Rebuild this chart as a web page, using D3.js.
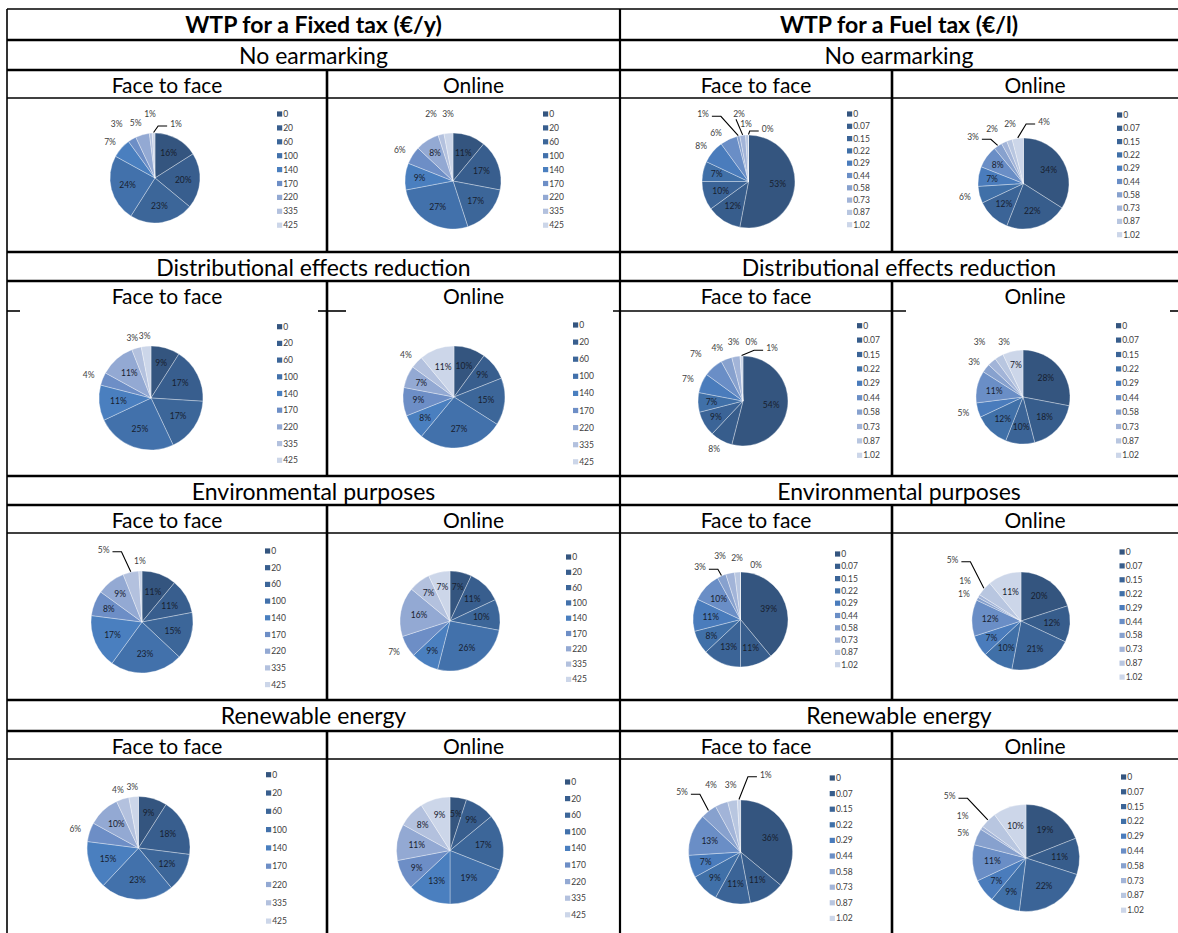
<!DOCTYPE html>
<html><head><meta charset="utf-8">
<script src="https://cdn.jsdelivr.net/npm/d3@7"></script>
<style>
body{margin:0;background:#fff}
svg{display:block;font-family:Lato,'Open Sans',sans-serif}
</style></head><body>
<svg id="chart" width="1178" height="933"></svg>
<script>
// Answer categories (WTP levels)
const fixedLevels = ["0","20","60","100","140","170","220","335","425"];
const fuelLevels  = ["0","0.07","0.15","0.22","0.29","0.44","0.58","0.73","0.87","1.02"];

const taxTitles = ["WTP for a Fixed tax (€/y)", "WTP for a Fuel tax (€/l)"];
const purposes  = ["No earmarking", "Distributional effects reduction", "Environmental purposes", "Renewable energy"];
const modes     = ["Face to face", "Online"];

// Share of respondents per level (%), one row per earmarking option
const fixedF2F = [
  [16,20,23,24,7,3,5,1,1],
  [9,17,17,25,11,4,11,3,3],
  [11,11,15,23,17,8,9,5,1],
  [9,18,12,23,15,6,10,4,3]
];
const fixedOnline = [
  [11,17,17,27,9,6,8,2,3],
  [10,9,15,27,8,9,7,4,11],
  [7,11,10,26,9,7,16,7,7],
  [5,9,17,19,13,9,11,8,9]
];
const fuelF2F = [
  [53,12,10,7,8,6,1,2,1,0],
  [54,8,9,7,7,7,4,3,0,1],
  [39,11,13,8,11,10,3,3,2,0],
  [36,11,11,9,7,13,5,4,3,1]
];
const fuelOnline = [
  [34,22,12,6,7,8,3,2,2,4],
  [28,18,10,12,5,11,3,3,3,7],
  [20,12,21,10,7,12,1,1,5,11],
  [19,11,22,9,7,11,5,1,5,10]
];

// Slice palettes
const fixedColors = ["#34557f","#385e8e","#3c6699","#4271ab","#4a7fbf","#6d8ec6","#93a9d3","#b3c1de","#ccd6e9"];
const fuelColors  = ["#34557f","#375d8c","#3b6497","#4070a8","#4a7cbc","#6a8ec6","#87a1ce","#a2b4d8","#b8c6e0","#ccd6e9"];

// Panel geometry: [pie cx, pie cy, radius, legend x, legend first y, legend step]
const pieLayout = [
  [[155,178,45,277,114,13.9],[453,181,48,543,114,13.9],[748.5,181.5,46.5,847,114,12.3],[1023.5,183.5,45.5,1117,115,13.3]],
  [[151,398,52,277,326.7,16.7],[454,397,51,573,325,17.1],[743,401,45,857,325.7,14.4],[1023,397,47,1116,325.7,14.4]],
  [[142,622,51,265,551,16.7],[450,621,50,566,557,15.3],[740.5,619.5,47.5,835,554,12.3],[1021,621,49,1119.5,552,13.9]],
  [[138.5,848,51.5,266,774.7,18.3],[450,850.5,53.5,565,782,16.6],[740.6,852,52,829.7,778,15.6],[1026,858,53.5,1121,777,14.8]]
];

// Which slice labels sit outside the pie
const outsideLabels = [
  [[4,5,6,7,8],[5,7,8],[4,5,6,7,8,9],[3,6,7,8,9]],
  [[5,7,8],[7],[1,4,5,6,7,8,9],[4,6,7,8]],
  [[7,8],[5],[6,7,8,9],[6,7,8]],
  [[5,7,8],[],[6,7,8,9],[6,7,8]]
];

// Hand-placed outside labels (offset from pie centre); third item = draw leader line
const labelNudges = {
  "0-0": {5:[-38.4,-54], 6:[-19.4,-55.3], 7:[-5,-64], 8:[21,-54,1]},
  "0-1": {7:[-22,-66.7], 8:[-5,-66.7]},
  "0-2": {5:[-32.5,-48.2], 6:[-45.5,-67.2,1], 7:[-9.5,-67.2,1], 8:[-2.5,-57.5], 9:[19.1,-52.5,1]},
  "0-3": {6:[-50.5,-46.2,1], 7:[-31.5,-54.2], 8:[-13.5,-59.5], 9:[20.5,-61.5,1]},
  "1-2": {5:[-47.2,-46.7], 6:[-25.7,-52.7], 7:[-9.5,-59.3], 8:[8.4,-59.3], 9:[29,-52.7,1]},
  "1-3": {7:[-43.5,-54.7], 8:[-19,-54.7]},
  "2-0": {7:[-38.4,-72.3,1]},
  "2-2": {6:[-40.5,-52.2,1], 7:[-20.5,-63.2], 8:[-3.5,-61.5], 9:[15.5,-54.2]},
  "2-3": {7:[-56,-40.3], 8:[-68.5,-61.3,1]},
  "3-2": {6:[-58.6,-59.7,1], 7:[-29.6,-67.3], 8:[-10,-67.3], 9:[25.2,-77.3,1]},
  "3-3": {7:[-63.4,-42.3], 8:[-76.4,-61.7,1]}
};

// Table grid
const colX = [7, 327, 620, 892, 1178];
const bandTop = [[40,70,98,252],[252,281,311,476],[476,505,533,700],[700,731,759,933]];

const svg = d3.select("#chart");
svg.append("rect").attr("width",1178).attr("height",933).attr("fill","#fff");

const grid = svg.append("g").attr("stroke","#000").attr("fill","none");
const hLines = [
  [9,1.5],[40,2.6],[70,2.6],[98,1.6],[252,2.6],[281,2.6],[476,2.6],[505,2.6],[533,1.6],[700,2.6],[731,2.6],[759,1.6]
];
hLines.forEach(([y,w]) => grid.append("line").attr("x1",colX[0]).attr("x2",colX[4]).attr("y1",y).attr("y2",y).attr("stroke-width",w));
// line under the second-row mode headers is mostly hidden behind the charts
[[7,20],[318,346],[613,906],[1170,1178]].forEach(([a,b]) =>
  grid.append("line").attr("x1",a).attr("x2",b).attr("y1",311).attr("y2",311).attr("stroke-width",1.6));
grid.append("line").attr("x1",colX[0]).attr("x2",colX[0]).attr("y1",9).attr("y2",933).attr("stroke-width",1.6);
grid.append("line").attr("x1",colX[2]).attr("x2",colX[2]).attr("y1",9).attr("y2",933).attr("stroke-width",2.2);
bandTop.forEach(b => {
  [colX[1], colX[3]].forEach(x =>
    grid.append("line").attr("x1",x).attr("x2",x).attr("y1",b[1]).attr("y2",b[3]).attr("stroke-width",2.6));
});

// Header texts
const txt = svg.append("g").attr("fill","#000").attr("text-anchor","middle");
taxTitles.forEach((t,i) => {
  txt.append("text").attr("x",(colX[2*i]+colX[2*i+2])/2).attr("y",33)
    .attr("font-size",23).attr("font-weight","bold").text(t);
});
purposes.forEach((p,r) => {
  [0,1].forEach(side => {
    txt.append("text").attr("x",(colX[2*side]+colX[2*side+2])/2).attr("y",bandTop[r][0]+23.5)
      .attr("font-size",23).text(p);
    modes.forEach((m,k) => {
      txt.append("text").attr("x",(colX[2*side+k]+colX[2*side+k+1])/2).attr("y",bandTop[r][1]+22.5)
        .attr("font-size",21).text(m);
    });
  });
});

// Pie panels
const series = [
  {vals: fixedF2F, levels: fixedLevels, colors: fixedColors},
  {vals: fixedOnline, levels: fixedLevels, colors: fixedColors},
  {vals: fuelF2F, levels: fuelLevels, colors: fuelColors},
  {vals: fuelOnline, levels: fuelLevels, colors: fuelColors}
];
const pie = d3.pie().sort(null).value(d => d.v);

purposes.forEach((p, r) => {
  series.forEach((s, c) => {
    const [cx, cy, rad, lx, ly, step] = pieLayout[r][c];
    const data = s.vals[r].map((v,i) => ({v, i, level: s.levels[i]}));
    const arcs = pie(data);
    const arc = d3.arc().innerRadius(0).outerRadius(rad);
    const g = svg.append("g").attr("transform", `translate(${cx},${cy})`);

    g.selectAll("path").data(arcs).join("path")
      .attr("d", arc)
      .attr("fill", d => s.colors[d.data.i])
      .attr("stroke", "#fff").attr("stroke-width", 0.6).attr("stroke-opacity", 0.55);

    const nudges = labelNudges[`${r}-${c}`] || {};
    const outside = outsideLabels[r][c];
    arcs.forEach(a => {
      const mid = (a.startAngle + a.endAngle) / 2;
      const ux = Math.sin(mid), uy = -Math.cos(mid);
      const out = outside.includes(a.data.i);
      const nd = nudges[a.data.i];
      let x, y;
      if (nd) { x = nd[0]; y = nd[1]; }
      else if (out) { x = rad*ux + ux*15; y = rad*uy + uy*10; }
      else { const k = a.data.v < 10 ? 0.7 : 0.63; x = rad*k*ux; y = rad*k*uy; }
      const t = g.append("text")
        .attr("x", x).attr("y", y)
        .attr("text-anchor","middle").attr("dominant-baseline","central")
        .attr("font-size", 8.5)
        .attr("fill", out ? "#404040" : "#17202e")
        .text(a.data.v + "%");
      if (nd && nd[2]) {
        const w = t.node().getComputedTextLength();
        const ex = (rad + 0.5) * ux, ey = (rad + 0.5) * uy;
        let pts;
        if (Math.abs(x - ex) > 18) {
          const side = ex > x ? 1 : -1;
          const x0 = x + side * (w/2 + 3);
          pts = [[x0, y + 2], [x0 + side * 9, y + 2], [ex, ey]];
        } else {
          pts = [[x - 3, y + 5], [ex, ey]];
        }
        g.append("path").attr("d", d3.line()(pts))
          .attr("fill","none").attr("stroke","#000").attr("stroke-width",1.1);
      }
    });

    // Legend
    const leg = svg.append("g").attr("transform", `translate(${lx},${ly})`);
    const items = leg.selectAll("g").data(data).join("g")
      .attr("transform", d => `translate(0,${d.i * step})`);
    items.append("rect").attr("x",0).attr("y",-2.6).attr("width",5.2).attr("height",5.2)
      .attr("fill", d => s.colors[d.i]);
    items.append("text").attr("x",6.2).attr("y",0).attr("dominant-baseline","central")
      .attr("font-size",8.5).attr("fill","#404040").text(d => d.level);
  });
});
</script></body></html>
